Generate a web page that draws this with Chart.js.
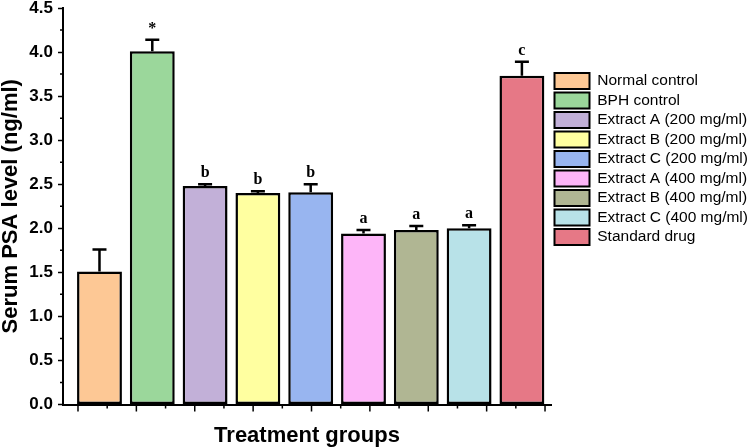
<!DOCTYPE html>
<html>
<head>
<meta charset="utf-8">
<script src="https://cdn.jsdelivr.net/npm/chart.js@4.4.0/dist/chart.umd.min.js"></script>
<style>
  html, body { margin: 0; padding: 0; background: #fff; }
  #wrap { width: 750px; height: 448px; }
</style>
</head>
<body>
<div id="wrap"><canvas id="psaChart"></canvas></div>
<script>
// data
const groups = ['Normal control', 'BPH control', 'Extract A (200 mg/ml)', 'Extract B (200 mg/ml)',
  'Extract C (200 mg/ml)', 'Extract A (400 mg/ml)', 'Extract B (400 mg/ml)', 'Extract C (400 mg/ml)', 'Standard drug'];
const psaMean = [1.51, 4.01, 2.48, 2.40, 2.41, 1.94, 1.98, 2.00, 3.73];
const psaError = [0.25, 0.13, 0.02, 0.02, 0.09, 0.04, 0.045, 0.035, 0.16];
const sigLetters = ['', '*', 'b', 'b', 'b', 'a', 'a', 'a', 'c'];
const barColors = ['#FDC895', '#9BD79B', '#C2B0D8', '#FFFFA0', '#98B5F0', '#FDB5F8', '#B0B693', '#B8E2E8', '#E67886'];
const yTicks = [0, 0.5, 1.0, 1.5, 2.0, 2.5, 3.0, 3.5, 4.0, 4.5];
const yMinorTicks = [0.25, 0.75, 1.25, 1.75, 2.25, 2.75, 3.25, 3.75, 4.25];

// the x axis ticks of the original don't line up with the bars
const xTickStart = 0.593;
const xTickStep = 0.5528;
const xTickCount = 17;

const sansFont = "'Liberation Sans', Arial, sans-serif";
const serifFont = "'Liberation Serif', 'Times New Roman', serif";
const legendWidth = 199;

// chart.js caps a side legend at a quarter of the canvas, this one is wider
const legendWidthPlugin = {
  id: 'legendWidth',
  beforeLayout(chart) {
    const lg = chart.legend;
    if (lg && !lg._wide) {
      const fit = lg.fit;
      lg.fit = function () { fit.call(this); this.width = legendWidth; };
      lg._wide = true;
    }
  }
};

// error bars, letters and the extra tick marks
const extrasPlugin = {
  id: 'extras',
  afterDatasetsDraw(chart) {
    const c = chart.ctx;
    const yScale = chart.scales.y;
    const bars = chart.getDatasetMeta(0).data;
    c.save();
    c.strokeStyle = '#000';
    c.fillStyle = '#000';
    c.lineWidth = 2.5;
    bars.forEach((bar, i) => {
      const top = yScale.getPixelForValue(psaMean[i]);
      const errTop = yScale.getPixelForValue(psaMean[i] + psaError[i]);
      c.beginPath();
      c.moveTo(bar.x, top);
      c.lineTo(bar.x, errTop);
      c.moveTo(bar.x - 7, errTop);
      c.lineTo(bar.x + 7, errTop);
      c.stroke();
      if (sigLetters[i]) {
        c.font = 'bold 16px ' + serifFont;
        c.textAlign = 'center';
        c.textBaseline = 'alphabetic';
        c.fillText(sigLetters[i], bar.x, errTop - 7);
      }
    });
    c.restore();
  },
  afterDraw(chart) {
    const c = chart.ctx;
    const xScale = chart.scales.x;
    const yScale = chart.scales.y;
    const base = chart.chartArea.bottom;
    const left = chart.chartArea.left;
    c.save();
    c.strokeStyle = '#000';
    c.lineWidth = 1.5;
    c.beginPath();
    for (let k = 0; k < xTickCount; k++) {
      const px = xScale.getPixelForValue(xTickStart + k * xTickStep);
      c.moveTo(px, base);
      c.lineTo(px, base + (k % 2 === 0 ? 7 : 4));
    }
    yMinorTicks.forEach(v => {
      const py = yScale.getPixelForValue(v);
      c.moveTo(left, py);
      c.lineTo(left - 3, py);
    });
    c.stroke();
    c.restore();
  }
};

new Chart(document.getElementById('psaChart'), {
  type: 'bar',
  data: {
    datasets: [{
      label: 'Serum PSA',
      data: psaMean.map((v, i) => ({ x: i + 1, y: v })),
      backgroundColor: barColors,
      borderColor: '#000',
      borderWidth: 2.5,
      borderSkipped: false,
      barPercentage: 0.85,
      categoryPercentage: 1.0
    }]
  },
  options: {
    responsive: true,
    maintainAspectRatio: false,
    animation: false,
    scales: {
      x: {
        type: 'linear',
        offset: false,
        min: 0.309,
        max: 9.551,
        ticks: { display: false },
        grid: { display: false, drawTicks: false, offset: false },
        border: { display: true, color: '#000', width: 2 },
        title: {
          display: true,
          text: 'Treatment groups',
          color: '#000',
          font: { family: sansFont, size: 22, weight: 'bold', lineHeight: 1.0 },
          padding: { top: 0, bottom: 1 }
        },
        afterFit(s) { s.height = 43.5; }
      },
      y: {
        min: 0,
        max: 4.5,
        afterBuildTicks(s) { s.ticks = yTicks.map(v => ({ value: v })); },
        ticks: {
          color: '#000',
          padding: 5,
          font: { family: sansFont, size: 17, weight: 'bold', lineHeight: 1.0 },
          callback: v => v.toFixed(1)
        },
        grid: { drawOnChartArea: false, tickLength: 5, tickColor: '#000', tickWidth: 1.5 },
        border: { color: '#000', width: 2 },
        title: {
          display: true,
          text: 'Serum PSA level (ng/ml)',
          color: '#000',
          font: { family: sansFont, size: 22, weight: 'bold', lineHeight: 1.0 },
          padding: { top: 0, bottom: 0 }
        },
        afterFit(s) { s.width = 63; s.paddingTop = 8; s.paddingBottom = 0; }
      }
    },
    plugins: {
      legend: {
        position: 'right',
        align: 'start',
        onClick: null,
        title: { display: true, text: ' ', font: { size: 12 }, padding: { top: 55, bottom: 0 } },
        labels: {
          boxWidth: 35,
          boxHeight: 16,
          padding: 3.5,
          color: '#000',
          font: { family: sansFont, size: 15.5 },
          generateLabels: () => groups.map((g, i) => ({
            text: g,
            fillStyle: barColors[i],
            strokeStyle: '#000',
            fontColor: '#000',
            lineWidth: 2,
            hidden: false,
            index: i
          }))
        }
      },
      tooltip: { enabled: false }
    }
  },
  plugins: [legendWidthPlugin, extrasPlugin]
});
</script>
</body>
</html>
